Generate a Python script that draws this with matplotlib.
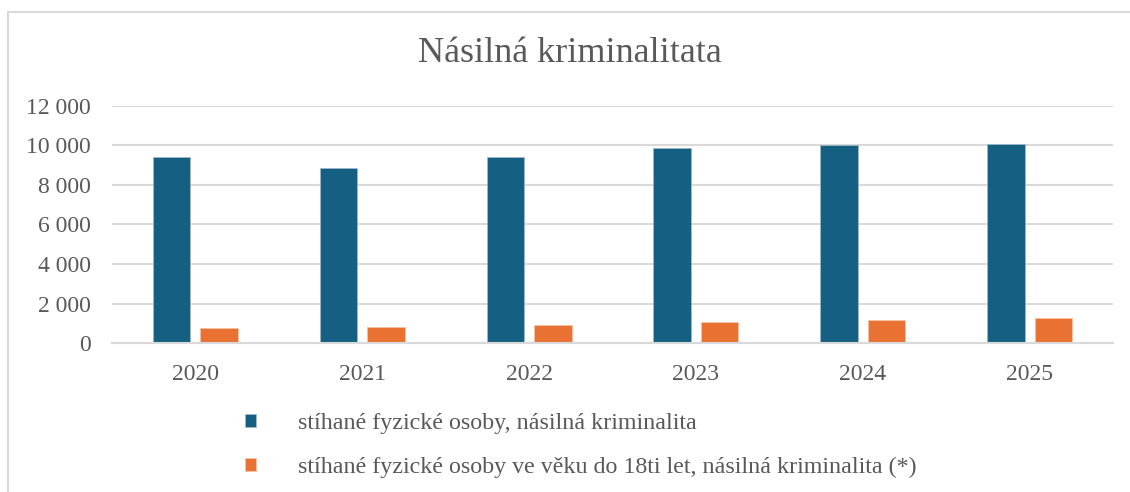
import matplotlib.pyplot as plt
import numpy as np
from matplotlib.patches import Rectangle

years = ["2020", "2021", "2022", "2023", "2024", "2025"]
all_persons = [9430, 8870, 9390, 9880, 10020, 10090]
under_18 = [780, 810, 910, 1100, 1200, 1270]
labels = [
    "stíhané fyzické osoby, násilná kriminalita",
    "stíhané fyzické osoby ve věku do 18ti let, násilná kriminalita (*)",
]
yticks = [0, 2000, 4000, 6000, 8000, 10000, 12000]

BLUE = "#156082"
ORANGE = "#E97132"
GRID = "#D9D9D9"
TEXT = "#595959"

plt.rcParams["font.family"] = ["Liberation Serif", "DejaVu Serif"]

W, H = 1130, 492
fig = plt.figure(figsize=(W / 100, H / 100), dpi=100)
ax = fig.add_axes([112 / W, 1 - 343.3 / H, 1001 / W, (343.3 - 105.7) / H])

x = np.arange(len(years))
width = 0.225
offset = 0.142
ax.bar(x - offset, all_persons, width, color=BLUE, edgecolor="#9FB8C8",
       linewidth=0.6, label=labels[0], zorder=3)
ax.bar(x + offset, under_18, width, color=ORANGE, edgecolor="#F4C2A6",
       linewidth=0.6, label=labels[1], zorder=3)

ax.set_xlim(-0.5, len(years) - 0.5)
ax.set_ylim(0, 12000)
ax.set_yticks(yticks)
ax.set_yticklabels([f"{v:,}".replace(",", " ") for v in yticks])
ax.set_xticks(x)
ax.set_xticklabels(years)
ax.tick_params(axis="both", length=0, labelsize=17, colors=TEXT)
ax.tick_params(axis="y", pad=15)
ax.tick_params(axis="x", pad=15)
ax.yaxis.grid(True, color=GRID, linewidth=1.5, zorder=0)
for side in ["top", "right", "left"]:
    ax.spines[side].set_visible(False)
ax.spines["bottom"].set_color(GRID)
ax.spines["bottom"].set_linewidth(1.5)
ax.spines["bottom"].set_zorder(4)

fig.text(0.504, 1 - 54 / H, "Násilná kriminalitata", ha="center", va="center",
         fontsize=26, color=TEXT)

fig.legend(loc="upper left", bbox_to_anchor=(245 / W, 1 - 413 / H),
           frameon=False, fontsize=17.3, labelcolor=TEXT, borderpad=0,
           borderaxespad=0, handlelength=0.46, handleheight=0.46,
           handletextpad=1.75, labelspacing=0.95)

# outer chart border
fig.patches.append(Rectangle((8 / W, -0.1), 1.0, 1.1 - 12 / H,
                             transform=fig.transFigure, fill=False,
                             edgecolor=GRID, linewidth=1.5))

fig.savefig("out.png", dpi=100)
